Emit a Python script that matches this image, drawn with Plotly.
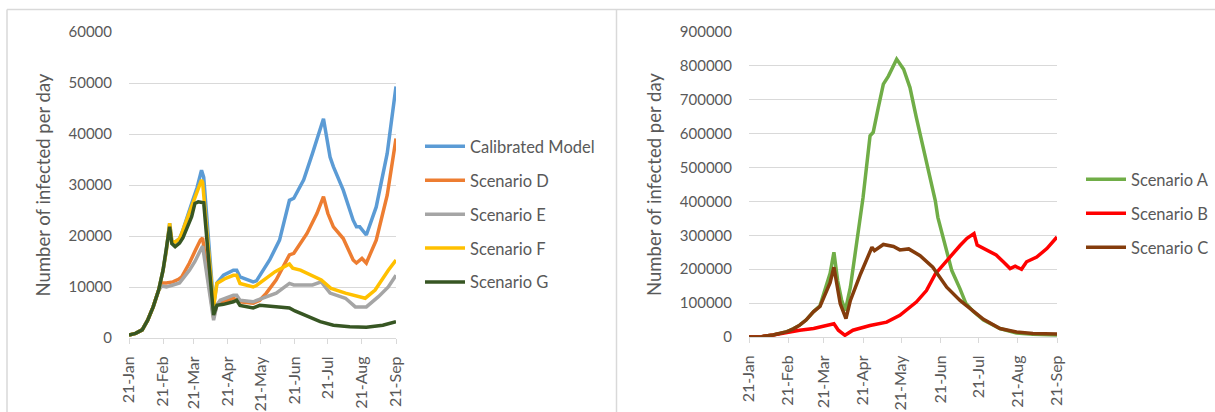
import pandas as pd
import plotly.graph_objects as go

# ---------------- data (day offsets from 1 Jan 2021, values) ----------------
month_ticks = ["2021-01-01", "2021-02-01", "2021-03-01", "2021-04-01", "2021-05-01",
               "2021-06-01", "2021-07-01", "2021-08-01", "2021-09-01"]

calib_days = [0, 6, 12, 17, 22, 27, 31, 34, 37, 39, 42, 46, 48, 53, 58, 62, 66, 68, 77, 80,
              86, 95, 98, 101, 113, 116, 122, 128, 137, 146, 150, 159, 167, 177, 183, 186, 195, 204, 207, 210,
              216, 225, 235, 243]
calib_vals = [600, 900, 1600, 3500, 6100, 9400, 13300, 17200, 22500, 19000, 18800, 19500, 20500, 23500, 27000, 29500, 32900, 31500, 6500, 10800,
              12300, 13300, 13300, 12000, 11000, 11200, 13300, 15300, 19200, 27000, 27400, 31000, 36200, 43000, 35500, 33600, 29000, 23100, 21800, 21800,
              20200, 25700, 36200, 49300]

d_days = [0, 6, 12, 17, 22, 27, 30, 34, 40, 45, 48, 55, 60, 65, 67, 77, 80, 83, 95, 101,
          113, 119, 125, 134, 146, 150, 162, 171, 177, 181, 186, 195, 204, 207, 212, 216, 225, 235, 243]
d_vals = [600, 900, 1600, 3500, 6100, 9400, 10800, 10800, 11000, 11500, 12000, 14700, 17000, 19200, 19600, 4000, 6500, 6800, 7800, 7100,
          6800, 7400, 8800, 11400, 16300, 16600, 20500, 24400, 27700, 24400, 21800, 19500, 15300, 14700, 15600, 14700, 19200, 28000, 39100]

e_days = [0, 6, 12, 17, 22, 27, 30, 34, 40, 46, 55, 60, 65, 67, 77, 80, 83, 95, 98, 101,
          113, 122, 134, 146, 150, 167, 175, 183, 197, 206, 216, 227, 236, 243]
e_vals = [600, 900, 1600, 3500, 6100, 9400, 10200, 10000, 10400, 10800, 13300, 15000, 17200, 18000, 3500, 6500, 7400, 8400, 8400, 7400,
          7100, 7800, 8800, 10700, 10400, 10400, 11000, 8800, 7800, 6100, 6100, 8100, 10000, 12300]

f_days = [0, 6, 12, 17, 22, 27, 31, 34, 37, 39, 42, 46, 48, 53, 56, 60, 66, 67, 77, 80,
          88, 95, 98, 101, 113, 116, 125, 133, 146, 149, 156, 175, 184, 197, 215, 224, 236, 243]
f_vals = [600, 900, 1600, 3500, 6100, 9400, 13300, 17200, 22500, 19000, 18800, 19500, 20500, 23500, 25500, 27500, 31000, 30500, 6000, 10700,
          11700, 12300, 12300, 10700, 10000, 10300, 11700, 13000, 14500, 13700, 13300, 11400, 9700, 8800, 7800, 9400, 13300, 15300]

g_days = [0, 6, 12, 17, 22, 27, 31, 34, 37, 39, 42, 46, 49, 57, 60, 63, 68, 73, 77, 80,
          86, 95, 98, 101, 107, 113, 119, 134, 146, 151, 162, 174, 186, 201, 216, 231, 243]
g_vals = [600, 900, 1600, 3500, 6100, 9400, 13300, 17200, 21800, 18500, 17900, 18600, 19600, 23800, 26400, 26700, 26500, 14000, 4500, 6400,
          6600, 7100, 7400, 6400, 6100, 5900, 6400, 6200, 5900, 5300, 4300, 3200, 2500, 2200, 2100, 2500, 3200]

a_days = [0, 10, 19, 25, 30, 35, 40, 45, 51, 56, 59, 64, 67, 70, 73, 76, 80, 85, 90, 95.5,
          98, 102, 106, 110, 116.5, 122, 127, 132, 137.5, 143, 147, 149, 155, 160, 166.5, 171, 177, 185, 198, 211,
          224, 243]
a_vals = [0, 1000, 6000, 10000, 15700, 24000, 35000, 50000, 75000, 92000, 129000, 188000, 250000, 165000, 110000, 78000, 147000, 275000, 412000, 594000,
          604000, 677000, 746000, 770000, 820000, 790000, 736000, 648000, 560000, 471000, 402000, 353000, 265000, 196000, 142000, 100000, 75000, 50000, 25000, 12000,
          8000, 6000]

b_days = [0, 10, 19, 25, 30, 35, 40, 51, 56, 59, 67, 70.5, 75.7, 82, 95.5, 108.6, 119, 132, 140, 147,
          156, 166.5, 172, 177.5, 180, 187.5, 195, 200.6, 206, 210, 215, 219, 227, 235, 243]
b_vals = [0, 1000, 6000, 10000, 15700, 19000, 20000, 25000, 29000, 31000, 39000, 20000, 5000, 20000, 34000, 44000, 64000, 103000, 137000, 186000,
          226000, 270000, 291000, 305000, 271000, 257000, 242000, 222000, 202000, 209000, 200000, 222000, 236000, 261000, 295000]

c_days = [0, 10, 19, 25, 30, 35, 40, 45, 51, 56, 59, 64, 67, 72, 76.5, 80, 88, 97, 99, 106,
          114, 119, 126, 135, 145, 156, 166.5, 177, 185, 198, 211, 224, 243]
c_vals = [0, 1000, 6000, 10000, 15700, 24000, 35000, 50000, 75000, 90000, 115000, 160000, 206000, 98000, 54000, 108000, 186000, 265000, 255000, 273000,
          267000, 257000, 260000, 240000, 206000, 147000, 108000, 78000, 52000, 25000, 15000, 10000, 9000]

BASE = pd.Timestamp("2021-01-01")


def to_dates(days):
    return [BASE + pd.Timedelta(days=float(d)) for d in days]


W, H = 1215, 412
TXT = "#595959"
GRID = "#d9d9d9"
FONT = "Lato"
LW = 3.5

fig = go.Figure()

left_series = [
    ("Calibrated Model", calib_days, calib_vals, "#5B9BD5"),
    ("Scenario D", d_days, d_vals, "#ED7D31"),
    ("Scenario E", e_days, e_vals, "#A5A5A5"),
    ("Scenario F", f_days, f_vals, "#FFC000"),
    ("Scenario G", g_days, g_vals, "#375623"),
]
for name, dd, vv, col in left_series:
    fig.add_trace(go.Scatter(x=to_dates(dd), y=vv, name=name, mode="lines",
                             line=dict(color=col, width=LW), xaxis="x", yaxis="y",
                             legend="legend", legendgroup=name))

right_series = [
    ("Scenario A", a_days, a_vals, "#70AD47"),
    ("Scenario B", b_days, b_vals, "#FF0000"),
    ("Scenario C", c_days, c_vals, "#843C0C"),
]
for name, dd, vv, col in right_series:
    fig.add_trace(go.Scatter(x=to_dates(dd), y=vv, name=name, mode="lines",
                             line=dict(color=col, width=LW), xaxis="x2", yaxis="y2",
                             legend="legend2", legendgroup=name))


def px_x(p):
    return p / W


def px_y(p):
    return (H - p) / H


xcommon = dict(type="date", range=[month_ticks[0], month_ticks[-1]], tickvals=month_ticks,
               tickformat="%y-%b", tickangle=-90, showgrid=False, showline=True,
               linecolor=GRID, linewidth=1, ticks="outside", ticklen=5, tickcolor=GRID,
               tickfont=dict(family=FONT, size=16, color=TXT), ticklabelstandoff=6,
               zeroline=False, automargin=False)
ycommon = dict(showgrid=True, gridcolor=GRID, gridwidth=1, showline=False, ticks="",
               zeroline=False, tickformat="d", automargin=False,
               tickfont=dict(family=FONT, size=15, color=TXT), ticklabelstandoff=16,
               title=dict(text="Number of infected per day",
                          font=dict(family=FONT, size=18.5, color=TXT), standoff=13))

fig.update_layout(
    width=W, height=H, autosize=False,
    margin=dict(l=0, r=0, t=0, b=0, pad=0, autoexpand=False),
    paper_bgcolor="white", plot_bgcolor="white",
    font=dict(family=FONT, color=TXT),
    xaxis=dict(domain=[px_x(129), px_x(396)], anchor="y", **xcommon),
    yaxis=dict(domain=[px_y(338), px_y(32)], anchor="x", range=[0, 60000], dtick=10000, **ycommon),
    xaxis2=dict(domain=[px_x(749), px_x(1057)], anchor="y2", **xcommon),
    yaxis2=dict(domain=[px_y(337), px_y(32)], anchor="x2", range=[0, 900000], dtick=100000, **ycommon),
    legend=dict(x=px_x(420), y=px_y(129), xanchor="left", yanchor="top",
                font=dict(family=FONT, size=16.5, color=TXT), bgcolor="rgba(0,0,0,0)",
                tracegroupgap=9.5, traceorder="grouped", itemwidth=40),
    legend2=dict(x=px_x(1081), y=px_y(162), xanchor="left", yanchor="top",
                 font=dict(family=FONT, size=16.5, color=TXT), bgcolor="rgba(0,0,0,0)",
                 tracegroupgap=9.5, traceorder="grouped", itemwidth=40),
    showlegend=True,
    shapes=[
        dict(type="line", xref="paper", yref="paper", x0=px_x(7), x1=1, y0=px_y(9.5), y1=px_y(9.5),
             line=dict(color=GRID, width=1.5)),
        dict(type="line", xref="paper", yref="paper", x0=px_x(7), x1=px_x(7), y0=0, y1=px_y(9.5),
             line=dict(color=GRID, width=1.5)),
        dict(type="line", xref="paper", yref="paper", x0=px_x(616.5), x1=px_x(616.5), y0=0, y1=px_y(9.5),
             line=dict(color=GRID, width=1.5)),
    ],
)

fig.write_html("out.html", config={"displayModeBar": False},
               post_script="document.body.style.margin='0px';document.body.style.overflow='hidden';")
